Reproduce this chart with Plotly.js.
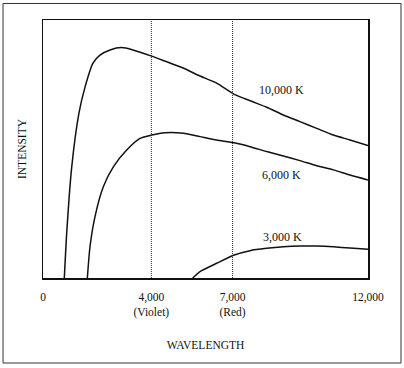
<!DOCTYPE html>
<html>
<head>
<meta charset="utf-8">
<script src="https://cdn.plot.ly/plotly-3.0.1.min.js"></script>
<style>html,body{margin:0;padding:0;background:#fff;}#chart{width:404px;height:368px;}</style>
</head>
<body>
<div id="chart"></div>
<script>
// Wavelength (Å) and relative intensity
const wl10000 = [787, 875, 1060, 1329, 1551, 1846, 2104, 2474, 2906, 3323, 4013, 4567, 5169, 5797, 6413, 7063, 7643, 8259, 8873, 9488, 10105, 10720, 11335, 12000];
const int10000 = [0, 17.4, 43, 64, 74, 83.3, 86.4, 88.4, 89.3, 88.4, 86, 83.8, 81.4, 78.3, 75.5, 71.2, 68.7, 66.2, 63.2, 60.6, 58, 55.4, 53.5, 51.3];

const wl6000 = [1637, 1735, 1920, 2227, 2597, 3090, 3581, 4013, 4504, 5180, 5797, 6413, 7063, 7643, 8259, 8873, 9488, 10105, 10720, 11335, 12000];
const int6000 = [0, 12.1, 23.8, 35.4, 43.1, 49.6, 54.1, 55.4, 56.3, 56.1, 54.8, 53.5, 52.4, 50.9, 49, 47.3, 45.5, 43.5, 41.9, 39.9, 38];

const wl3000 = [5527, 5797, 6413, 7063, 7643, 8259, 8873, 9488, 10105, 10720, 11335, 12000];
const int3000 = [0, 2.5, 5.7, 8.9, 10.6, 11.5, 12.1, 12.4, 12.4, 12.1, 11.6, 11.1];

const curveLabels = ["10,000 K", "6,000 K", "3,000 K"];
const labelX = [8788, 8788, 8825];
const labelY = [72.9, 39.9, 15.9];

const markerWl = [4000, 7000];
const tickVals = [0, 4000, 7000, 12000];
const tickText = ["0", "4,000<br>(Violet)", "7,000<br>(Red)", "12,000"];

const serif = "Liberation Serif, Times New Roman, serif";
const lineStyle = {color: "#111", width: 1.5, shape: "spline", smoothing: 0.6};

const traces = [
  {x: wl10000, y: int10000, mode: "lines", line: lineStyle, hoverinfo: "skip"},
  {x: wl6000, y: int6000, mode: "lines", line: lineStyle, hoverinfo: "skip"},
  {x: wl3000, y: int3000, mode: "lines", line: lineStyle, hoverinfo: "skip"}
];
markerWl.forEach(w => traces.push({
  x: [w, w], y: [0, 100], mode: "lines",
  line: {color: "#222", width: 1, dash: "1px,1px"}, hoverinfo: "skip"
}));

const layout = {
  width: 404, height: 368,
  margin: {l: 43, r: 36, t: 20, b: 90},
  paper_bgcolor: "#fff", plot_bgcolor: "#fff",
  showlegend: false,
  font: {family: serif, color: "#111", size: 11.5},
  xaxis: {
    range: [0, 12000], tickvals: tickVals, ticktext: tickText,
    ticks: "", showgrid: false, zeroline: false,
    showline: true, mirror: true, linecolor: "#111", linewidth: 1.5,
    ticklabelstandoff: 8,
    tickfont: {family: serif, size: 11.5, color: "#111"},
    title: {text: "WAVELENGTH", font: {family: serif, size: 11.5, color: "#111"}, standoff: 22}
  },
  yaxis: {
    range: [0, 100], showticklabels: false, ticks: "",
    showgrid: false, zeroline: false,
    showline: true, mirror: true, linecolor: "#111", linewidth: 1.5,
    title: {text: "INTENSITY", font: {family: serif, size: 11.5, color: "#111"}, standoff: 12}
  },
  annotations: curveLabels.map((t, i) => ({
    x: labelX[i], y: labelY[i], xref: "x", yref: "y", text: t, showarrow: false,
    font: {family: serif, size: 12, color: "#111"}
  })),
  shapes: [{
    type: "rect", xref: "paper", yref: "paper",
    x0: -0.123, x1: 1.1015, y0: -0.3295, y1: 1.064,
    line: {color: "#333", width: 1}
  }]
};

Plotly.newPlot("chart", traces, layout, {staticPlot: true, displayModeBar: false});
</script>
</body>
</html>
